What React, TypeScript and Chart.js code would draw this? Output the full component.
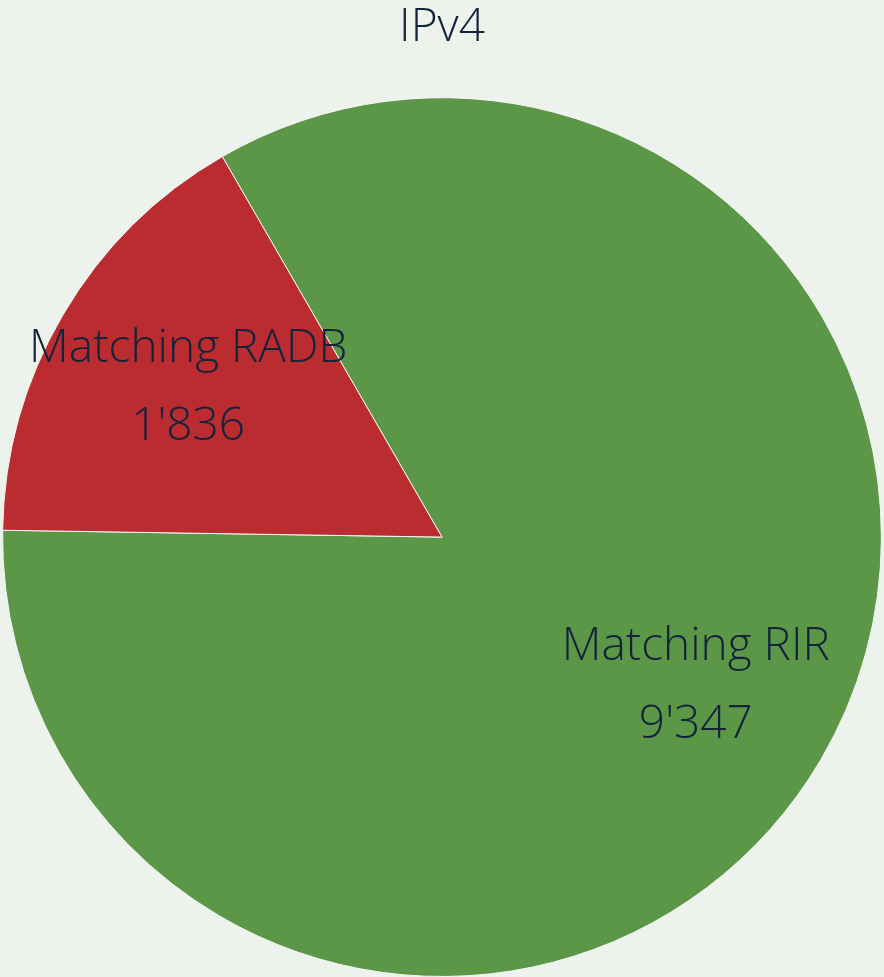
import React, { useEffect, useRef } from "react";
import { Chart, registerables } from "chart.js";

Chart.register(...registerables);

const title = "IPv4";
const categories = ["Matching RIR", "Matching RADB"];
const values = [9347, 1836];
const colors = ["#5c9748", "#bb2c31"];

const FONT = "'Open Sans', 'Noto Sans', sans-serif";
const TEXT_COLOR = "#13233a";
const BG = "#edf2ed";

function fmt(n: number): string {
  return String(n).replace(/\B(?=(\d{3})+(?!\d))/g, "'");
}

const labelPlugin = {
  id: "sliceLabels",
  afterDatasetsDraw(chart: any) {
    const ctx = chart.ctx;
    const meta = chart.getDatasetMeta(0);
    ctx.save();
    ctx.fillStyle = TEXT_COLOR;
    ctx.textAlign = "center";
    ctx.textBaseline = "middle";
    ctx.font = `350 46px ${FONT}`;
    meta.data.forEach((arc: any, i: number) => {
      const p = arc.getProps(["x", "y", "startAngle", "endAngle", "outerRadius"], true);
      const mid = (p.startAngle + p.endAngle) / 2;
      const r = p.outerRadius * 0.67;
      const cx = p.x + Math.cos(mid) * r;
      const cy = p.y + Math.sin(mid) * r;
      ctx.fillText(categories[i], cx, cy - 39);
      ctx.fillText(fmt(values[i]), cx, cy + 39);
    });
    ctx.restore();
  },
};

export default function App() {
  const ref = useRef<HTMLCanvasElement | null>(null);
  useEffect(() => {
    document.body.style.margin = "0";
    const chart = new Chart(ref.current as HTMLCanvasElement, {
      type: "pie",
      data: {
        labels: categories,
        datasets: [
          {
            data: values,
            backgroundColor: colors,
            borderColor: "#f4f7f4",
            borderWidth: 1,
          },
        ],
      },
      options: {
        animation: false,
        responsive: false,
        rotation: -30,
        layout: { padding: 0 },
        plugins: {
          legend: { display: false },
          tooltip: { enabled: false },
          title: {
            display: true,
            text: title,
            color: TEXT_COLOR,
            font: { family: FONT, size: 46, weight: "350" as any, lineHeight: 1.2 },
            padding: { top: 0, bottom: 42 },
          },
        },
      },
      plugins: [labelPlugin],
    });
    return () => chart.destroy();
  }, []);
  return (
    <div style={{ position: "fixed", left: 0, top: 0, width: 884, height: 977, background: BG }}>
      <canvas ref={ref} width={884} height={977} style={{ display: "block", width: 884, height: 977 }} />
    </div>
  );
}
